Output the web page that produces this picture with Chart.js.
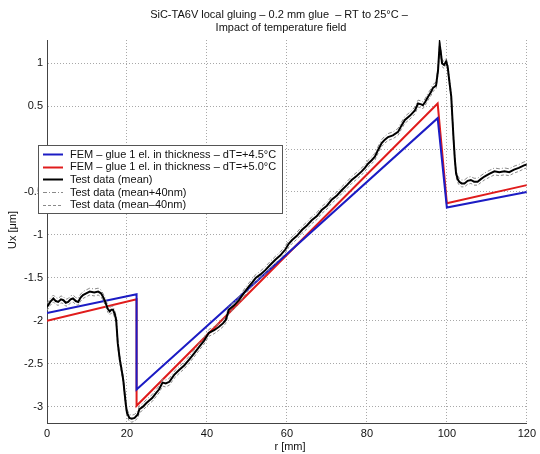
<!DOCTYPE html>
<html>
<head>
<meta charset="utf-8">
<script src="https://cdn.jsdelivr.net/npm/chart.js@4/dist/chart.umd.min.js"></script>
<style>
  body { margin: 0; background: #fff; }
  #wrap { width: 540px; height: 454px; }
</style>
</head>
<body>
<div id="wrap"><canvas id="chart" width="540" height="454"></canvas></div>
<script>
// FEM results (piecewise straight lines)
const femR = [0, 22.4, 22.4, 97.7, 100, 120];
const fem45 = [-1.91, -1.69, -2.80, 0.36, -0.68, -0.50];
const fem50 = [-2.00, -1.75, -2.99, 0.53, -0.63, -0.42];

// test data
const testR = [0, 0.8, 1.6, 2.2, 2.8, 3.5, 4.1, 4.7, 5.3, 5.9, 6.5, 7.2, 7.8, 8.4, 9.0, 9.8, 10.7, 11.8, 12.8, 13.5,
  14.0, 14.5, 14.8, 15.2, 15.7, 16.1, 16.5, 17.0, 17.3, 17.7, 18.2, 18.8, 19.1, 19.4, 19.7, 20.0, 20.6, 21.2, 21.9, 22.7,
  23.1, 24.0, 24.8, 25.5, 26.3, 27.3, 28.0, 28.9, 29.7, 30.6, 31.8, 33.1, 34.3, 35.6, 36.8, 38.1, 39.3, 40.5, 41.8, 43.0,
  44.0, 44.7, 45.5, 46.8, 48.0, 49.2, 50.5, 51.4, 52.2, 53.4, 54.6, 55.8, 57.1, 58.3, 59.6, 60.5, 61.3, 62.5, 63.8, 65.0,
  66.2, 67.5, 68.7, 70.0, 71.2, 72.5, 73.7, 75.0, 76.2, 77.5, 78.7, 79.5, 80.3, 81.2, 82.0, 82.8, 83.7, 84.5, 85.3, 86.5,
  87.8, 88.6, 89.5, 90.8, 92.0, 92.8, 93.6, 94.0, 94.6, 95.3, 96.0, 96.5, 97.3, 97.8, 98.2, 98.5, 98.8, 99.3, 99.8, 100.2,
  100.6, 101.1, 101.4, 101.7, 102.0, 102.3, 102.7, 103.1, 103.7, 104.4, 105.2, 106.0, 106.8, 107.7, 108.5, 109.4, 110.6, 111.9, 113.1, 114.4,
  115.6, 116.8, 118.0, 119.3, 120.0];
const testMean = [-1.84, -1.78, -1.74, -1.77, -1.78, -1.75, -1.76, -1.79, -1.78, -1.75, -1.74, -1.77, -1.78, -1.73, -1.70, -1.68, -1.66, -1.67, -1.66, -1.68,
  -1.72, -1.77, -1.81, -1.86, -1.89, -1.87, -1.87, -1.93, -1.99, -2.26, -2.45, -2.61, -2.70, -2.84, -2.97, -3.07, -3.13, -3.14, -3.13, -3.09,
  -3.03, -3.00, -2.96, -2.93, -2.90, -2.84, -2.80, -2.72, -2.73, -2.71, -2.63, -2.57, -2.52, -2.45, -2.38, -2.30, -2.23, -2.14, -2.11, -2.07,
  -2.03, -1.99, -1.87, -1.82, -1.76, -1.68, -1.60, -1.55, -1.50, -1.46, -1.41, -1.35, -1.29, -1.24, -1.17, -1.10, -1.06, -1.01, -0.94, -0.89,
  -0.83, -0.78, -0.71, -0.66, -0.59, -0.54, -0.48, -0.42, -0.36, -0.31, -0.26, -0.22, -0.17, -0.13, -0.09, -0.01, 0.07, 0.11, 0.14, 0.16,
  0.20, 0.27, 0.34, 0.39, 0.45, 0.53, 0.52, 0.51, 0.55, 0.61, 0.66, 0.71, 0.74, 0.92, 1.22, 1.12, 1.00, 0.98, 1.02, 0.96,
  0.80, 0.61, 0.35, 0.10, -0.12, -0.28, -0.35, -0.38, -0.40, -0.40, -0.37, -0.36, -0.38, -0.38, -0.35, -0.32, -0.29, -0.26, -0.27, -0.26,
  -0.27, -0.24, -0.22, -0.19, -0.18];
const testPlus = [-1.80, -1.74, -1.70, -1.73, -1.74, -1.71, -1.72, -1.75, -1.74, -1.71, -1.70, -1.73, -1.74, -1.69, -1.66, -1.64, -1.62, -1.63, -1.62, -1.64,
  -1.68, -1.73, -1.77, -1.82, -1.85, -1.83, -1.83, -1.89, -1.95, -2.22, -2.41, -2.57, -2.66, -2.80, -2.93, -3.03, -3.09, -3.10, -3.09, -3.05,
  -2.99, -2.96, -2.92, -2.89, -2.86, -2.80, -2.76, -2.68, -2.69, -2.67, -2.59, -2.53, -2.48, -2.41, -2.34, -2.26, -2.19, -2.10, -2.07, -2.03,
  -1.99, -1.95, -1.83, -1.78, -1.72, -1.64, -1.56, -1.51, -1.46, -1.42, -1.37, -1.31, -1.25, -1.20, -1.13, -1.06, -1.02, -0.97, -0.90, -0.85,
  -0.79, -0.74, -0.67, -0.62, -0.55, -0.50, -0.44, -0.38, -0.32, -0.27, -0.22, -0.18, -0.13, -0.09, -0.05, 0.03, 0.11, 0.15, 0.18, 0.20,
  0.24, 0.31, 0.38, 0.43, 0.49, 0.57, 0.56, 0.55, 0.59, 0.65, 0.70, 0.75, 0.78, 0.96, 1.26, 1.16, 1.04, 1.02, 1.06, 1.00,
  0.84, 0.65, 0.39, 0.14, -0.08, -0.24, -0.31, -0.34, -0.36, -0.36, -0.33, -0.32, -0.34, -0.34, -0.31, -0.28, -0.25, -0.22, -0.23, -0.22,
  -0.23, -0.20, -0.18, -0.15, -0.14];
const testMinus = [-1.88, -1.82, -1.78, -1.81, -1.82, -1.79, -1.80, -1.83, -1.82, -1.79, -1.78, -1.81, -1.82, -1.77, -1.74, -1.72, -1.70, -1.71, -1.70, -1.72,
  -1.76, -1.81, -1.85, -1.90, -1.93, -1.91, -1.91, -1.97, -2.03, -2.30, -2.49, -2.65, -2.74, -2.88, -3.01, -3.11, -3.17, -3.18, -3.17, -3.13,
  -3.07, -3.04, -3.00, -2.97, -2.94, -2.88, -2.84, -2.76, -2.77, -2.75, -2.67, -2.61, -2.56, -2.49, -2.42, -2.34, -2.27, -2.18, -2.15, -2.11,
  -2.07, -2.03, -1.91, -1.86, -1.80, -1.72, -1.64, -1.59, -1.54, -1.50, -1.45, -1.39, -1.33, -1.28, -1.21, -1.14, -1.10, -1.05, -0.98, -0.93,
  -0.87, -0.82, -0.75, -0.70, -0.63, -0.58, -0.52, -0.46, -0.40, -0.35, -0.30, -0.26, -0.21, -0.17, -0.13, -0.05, 0.03, 0.07, 0.10, 0.12,
  0.16, 0.23, 0.30, 0.35, 0.41, 0.49, 0.48, 0.47, 0.51, 0.57, 0.62, 0.67, 0.70, 0.88, 1.18, 1.08, 0.96, 0.94, 0.98, 0.92,
  0.76, 0.57, 0.31, 0.06, -0.16, -0.32, -0.39, -0.42, -0.44, -0.44, -0.41, -0.40, -0.42, -0.42, -0.39, -0.36, -0.33, -0.30, -0.31, -0.30,
  -0.31, -0.28, -0.26, -0.23, -0.22];

const xTicks = [0, 20, 40, 60, 80, 100, 120];
const yTicks = [-3, -2.5, -2, -1.5, -1, -0.5, 0, 0.5, 1];

const titleLines = ['SiC-TA6V local gluing \u2013 0.2 mm glue  \u2013 RT to 25\u00b0C \u2013', 'Impact of temperature field'];
const legendLabels = [
  'FEM \u2013 glue 1 el. in thickness \u2013 dT=+4.5\u00b0C',
  'FEM \u2013 glue 1 el. in thickness \u2013 dT=+5.0\u00b0C',
  'Test data (mean)',
  'Test data (mean+40nm)',
  'Test data (mean\u201340nm)'
];

const BLUE = '#1c1cc4';
const RED = '#e01c1c';
const FONT = '"Liberation Sans", Arial, sans-serif';

const toPts = (xs, ys) => xs.map((x, i) => ({ x: x, y: ys[i] }));

const styles = [
  { color: BLUE, width: 2, dash: [] },
  { color: RED, width: 2, dash: [] },
  { color: '#000', width: 2, dash: [] },
  { color: '#8a8a8a', width: 1, dash: [4, 2, 1, 2] },
  { color: '#8a8a8a', width: 1, dash: [3, 2] }
];

const mkSet = (label, pts, st, order) => ({
  label: label,
  data: pts,
  borderColor: st.color,
  borderWidth: st.width,
  borderDash: st.dash,
  pointRadius: 0,
  tension: 0,
  fill: false,
  order: order
});

const overlay = {
  id: 'overlay',
  afterDraw(chart) {
    const ctx = chart.ctx;
    ctx.save();
    ctx.fillStyle = '#111';
    ctx.textAlign = 'center';
    ctx.textBaseline = 'middle';
    ctx.font = '11px ' + FONT;
    ctx.fillText(titleLines[0], 279, 15);
    ctx.fillText(titleLines[1], 281, 28);
    // axis titles
    ctx.fillText('r [mm]', 290, 447);
    ctx.save();
    ctx.translate(13, 230);
    ctx.rotate(-Math.PI / 2);
    ctx.fillText('Ux [\u03bcm]', 0, 0);
    ctx.restore();
    // legend box
    const lx = 38, ly = 145, lw = 244, lh = 68;
    ctx.fillStyle = '#fff';
    ctx.fillRect(lx, ly, lw, lh);
    ctx.strokeStyle = '#555';
    ctx.lineWidth = 1;
    ctx.strokeRect(lx + 0.5, ly + 0.5, lw, lh);
    ctx.textAlign = 'left';
    legendLabels.forEach((lab, i) => {
      const y = ly + 9 + i * 12.7;
      const st = styles[i];
      ctx.beginPath();
      ctx.strokeStyle = st.color;
      ctx.lineWidth = st.width;
      ctx.setLineDash(st.dash);
      ctx.moveTo(43, Math.round(y) + 0.5);
      ctx.lineTo(63, Math.round(y) + 0.5);
      ctx.stroke();
      ctx.setLineDash([]);
      ctx.fillStyle = '#111';
      ctx.fillText(lab, 70, y + 0.5);
    });
    ctx.restore();
  }
};

const chart = new Chart('chart', {
  type: 'line',
  data: {
    datasets: [
      mkSet(legendLabels[0], toPts(femR, fem45), styles[0], 3),
      mkSet(legendLabels[1], toPts(femR, fem50), styles[1], 3),
      mkSet(legendLabels[2], toPts(testR, testMean), styles[2], 0),
      mkSet(legendLabels[3], toPts(testR, testPlus), styles[3], 1),
      mkSet(legendLabels[4], toPts(testR, testMinus), styles[4], 1)
    ]
  },
  options: {
    responsive: false,
    animation: false,
    devicePixelRatio: 1,
    layout: { padding: { top: 40, right: 10, left: 0, bottom: 0 } },
    plugins: { legend: { display: false }, title: { display: false }, tooltip: { enabled: false } },
    scales: {
      x: {
        type: 'linear',
        min: 0,
        max: 120,
        afterBuildTicks: (s) => { s.ticks = xTicks.map(v => ({ value: v })); },
        afterFit: (s) => { s.height = 31; },
        ticks: { padding: 4, color: '#111', font: { family: FONT, size: 11 }, maxRotation: 0,
          callback: (v) => String(v) },
        grid: { color: '#a8a8a8', lineWidth: 1, drawTicks: false },
        border: { color: '#444', width: 1, dash: [1, 2] }
      },
      y: {
        type: 'linear',
        min: -3.19,
        max: 1.27,
        afterBuildTicks: (s) => { s.ticks = yTicks.map(v => ({ value: v })); },
        afterFit: (s) => { s.width = 47; },
        ticks: { padding: 4, color: '#111', font: { family: FONT, size: 11 },
          // the 0 label sits under the legend box in the original
          callback: (v) => (v === 0 ? '' : String(v)) },
        grid: { color: '#a8a8a8', lineWidth: 1, drawTicks: false },
        border: { color: '#444', width: 1, dash: [1, 2] }
      }
    }
  },
  plugins: [overlay]
});
</script>
</body>
</html>
